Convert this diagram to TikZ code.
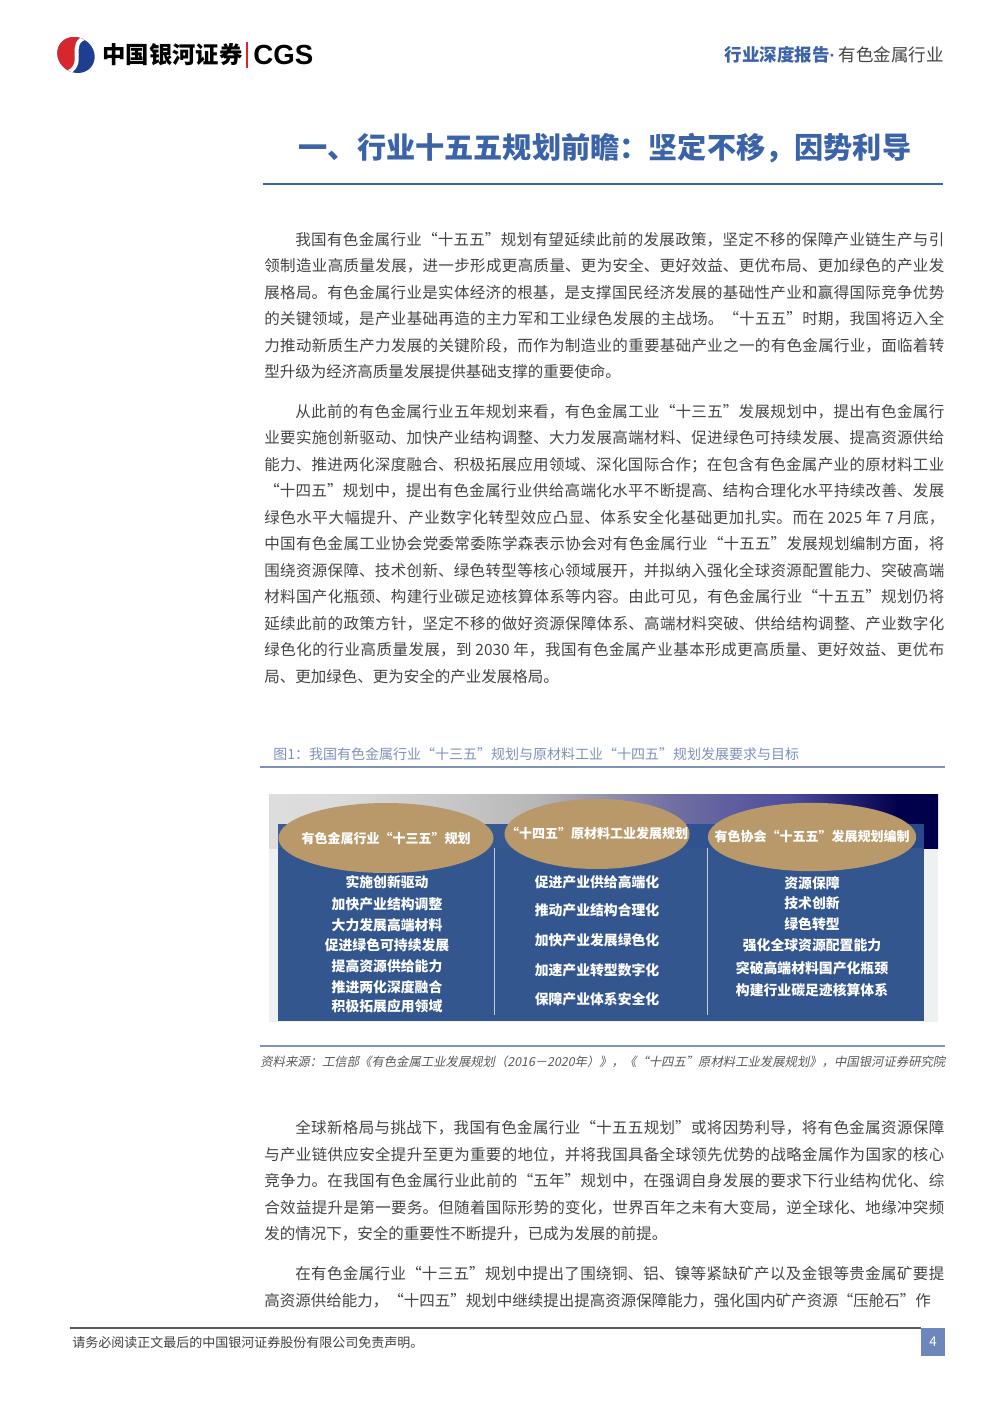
\documentclass[tikz,border=0pt]{standalone}
\usepackage{fontspec}
\usepackage{graphicx}
\setmainfont{Noto Sans CJK SC}
\newfontfamily\cjkit[FakeSlant=0.2]{Noto Sans CJK SC}
\newfontfamily\latinbold{Liberation Sans}
\usetikzlibrary{shapes.geometric}
\XeTeXlinebreaklocale "zh"
\XeTeXlinebreakskip=0pt plus 3pt minus 0.2pt
\tolerance=9999
\definecolor{cgsred}{HTML}{D7262E}
\definecolor{cgsblue}{HTML}{1E3F8F}
\definecolor{titleblue}{HTML}{3B63A8}
\definecolor{bodygray}{HTML}{454545}
\definecolor{capblue}{HTML}{7F92B9}
\definecolor{panelblue}{HTML}{34568F}
\definecolor{bandblue}{HTML}{2C5190}
\definecolor{ovaltan}{HTML}{B9996A}
\definecolor{figbg}{HTML}{EEF1F2}
\definecolor{pagebox}{HTML}{6E87BA}
\pgfdeclarehorizontalshading{photoshade}{100bp}{color(0bp)=(white!90!black); color(30bp)=(white!86!black); color(45bp)=(white!72!black); color(55bp)=(black!45!white!80!blue); color(64bp)=(black!55!blue!70!white); color(72bp)=(black!70!blue); color(100bp)=(black!80!blue)}
\tikzset{
  para/.style={anchor=north west, inner sep=0pt, text width=408pt, align=justify,
    font=\fontsize{9.3pt}{15.9pt}\selectfont, text=bodygray},
  colitem/.style={inner sep=0pt, text=white, font=\fontsize{8.3pt}{10pt}\selectfont\bfseries},
  oval/.style={ellipse, fill=ovaltan, inner sep=0pt, outer sep=0pt},
  ovaltext/.style={inner sep=0pt, text=white, font=\fontsize{7.8pt}{9pt}\selectfont\bfseries},
  rulecap/.style={draw=capblue, line width=0.8pt},
}
\begin{document}
\begin{tikzpicture}[x=0.6pt,y=-0.6pt]
\useasboundingbox (0,0) rectangle (992,1403);
\fill[white] (0,0) rectangle (992,1403);

% ---------- header logo ----------
\begin{scope}
  \clip (76,55) ellipse [x radius=11.6pt, y radius=10.4pt, rotate=-35];
  \fill[cgsblue] (55,33) rectangle (100,78);
  \fill[cgsred] (88,37) .. controls (64,42) and (90,66) .. (64,74) -- (50,80) -- (50,30) -- cycle;
  \draw[white, line width=2.4pt] (88,37) .. controls (64,42) and (90,66) .. (64,74);
\end{scope}
\node[anchor=west, inner sep=0pt, font=\fontsize{14pt}{16pt}\selectfont\bfseries] (brand) at (102,55) {中国银河证券};
\draw[cgsred, line width=0.7pt] (247,42) -- (247,68);
\node[anchor=west, inner sep=0pt, font=\latinbold\fontsize{16.6pt}{18pt}\selectfont\bfseries] (cgs) at (253,55) {CGS};
\node[anchor=east, inner sep=0pt, font=\fontsize{10.5pt}{12pt}\selectfont] (hdr) at (944,55) {\textcolor{titleblue}{\bfseries 行业深度报告}\textcolor{titleblue}{\latinbold\bfseries\char"00B7}\hspace{2pt}\textcolor{bodygray}{有色金属行业}};

% ---------- title ----------
\node[inner sep=0pt, text=titleblue, font=\fontsize{17.5pt}{20pt}\selectfont\bfseries] (title) at (605,148) {一、行业十五五规划前瞻：坚定不移，因势利导};
\draw[titleblue, line width=1.3pt] (263,184) -- (943,184);

% ---------- paragraphs ----------
\node[para] (p1) at (264,232) {\hspace*{2em}我国有色金属行业“十五五”规划有望延续此前的发展政策，坚定不移的保障产业链生产与引\linebreak
领制造业高质量发展，进一步形成更高质量、更为安全、更好效益、更优布局、更加绿色的产业发\linebreak
展格局。有色金属行业是实体经济的根基，是支撑国民经济发展的基础性产业和赢得国际竞争优势\linebreak
的关键领域，是产业基础再造的主力军和工业绿色发展的主战场。“十五五”时期，我国将迈入全\linebreak
力推动新质生产力发展的关键阶段，而作为制造业的重要基础产业之一的有色金属行业，面临着转\linebreak
型升级为经济高质量发展提供基础支撑的重要使命。};

\node[para] (p2) at (264,404) {\hspace*{2em}从此前的有色金属行业五年规划来看，有色金属工业“十三五”发展规划中，提出有色金属行\linebreak
业要实施创新驱动、加快产业结构调整、大力发展高端材料、促进绿色可持续发展、提高资源供给\linebreak
能力、推进两化深度融合、积极拓展应用领域、深化国际合作；在包含有色金属产业的原材料工业\linebreak
“十四五”规划中，提出有色金属行业供给高端化水平不断提高、结构合理化水平持续改善、发展\linebreak
绿色水平大幅提升、产业数字化转型效应凸显、体系安全化基础更加扎实。而在 2025 年 7 月底，\linebreak
中国有色金属工业协会党委常委陈学森表示协会对有色金属行业“十五五”发展规划编制方面，将\linebreak
围绕资源保障、技术创新、绿色转型等核心领域展开，并拟纳入强化全球资源配置能力、突破高端\linebreak
材料国产化瓶颈、构建行业碳足迹核算体系等内容。由此可见，有色金属行业“十五五”规划仍将\linebreak
延续此前的政策方针，坚定不移的做好资源保障体系、高端材料突破、供给结构调整、产业数字化\linebreak
绿色化的行业高质量发展，到 2030 年，我国有色金属产业基本形成更高质量、更好效益、更优布\linebreak
局、更加绿色、更为安全的产业发展格局。};

% ---------- figure caption ----------
\node[anchor=west, inner sep=0pt, text=capblue, font=\fontsize{8.4pt}{10pt}\selectfont] (cap) at (273,754) {图1：我国有色金属行业“十三五”规划与原材料工业“十四五”规划发展要求与目标};
\draw[rulecap] (260,767) -- (945,767);

% ---------- figure ----------
\fill[figbg] (269,794) rectangle (938,1022);
\shade[shading=photoshade] (269,794) rectangle (938,848);
\fill[panelblue] (278,848) rectangle (924,1021);
\fill[bandblue, opacity=0.92] (278,824) rectangle (924,848);
\draw[white!70!panelblue, line width=0.5pt] (494,848) -- (494,1015);
\draw[white!70!panelblue, line width=0.5pt] (707,848) -- (707,1015);

\node[oval, minimum width=129pt, minimum height=42pt] (o1) at (386,838) {};
\node[oval, minimum width=111pt, minimum height=42pt] (o2) at (597,834) {};
\node[oval, minimum width=125pt, minimum height=41pt] (o3) at (812,837) {};
\node[ovaltext] (t1) at (o1) {有色金属行业“十三五”规划};
\node[ovaltext] (t2) at (o2) {“十四五”原材料工业发展规划};
\node[ovaltext] (t3) at (o3) {有色协会“十五五”发展规划编制};

\foreach \t/\y [count=\i] in {实施创新驱动/882, 加快产业结构调整/904, 大力发展高端材料/925, 促进绿色可持续发展/945, 提高资源供给能力/966, 推进两化深度融合/987, 积极拓展应用领域/1006}
  \node[colitem] (a\i) at (387,\y) {\t};
\foreach \t/\y [count=\i] in {促进产业供给高端化/882, 推动产业结构合理化/910, 加快产业发展绿色化/940, 加速产业转型数字化/970, 保障产业体系安全化/999}
  \node[colitem] (b\i) at (597,\y) {\t};
\foreach \t/\y [count=\i] in {资源保障/883, 技术创新/903, 绿色转型/924, 强化全球资源配置能力/945, 突破高端材料国产化瓶颈/968, 构建行业碳足迹核算体系/990}
  \node[colitem] (c\i) at (812,\y) {\t};

% ---------- source ----------
\draw[rulecap] (260,1046) -- (945,1046);
\node[anchor=west, inner sep=0pt, text=black!65, font=\cjkit\fontsize{7.6pt}{9pt}\selectfont] (src) at (260,1062) {\resizebox{411pt}{!}{资料来源：工信部《有色金属工业发展规划（2016－2020年）》，《“十四五”原材料工业发展规划》，中国银河证券研究院}};

% ---------- more paragraphs ----------
\node[para] (p3) at (264,1120) {\hspace*{2em}全球新格局与挑战下，我国有色金属行业“十五五规划”或将因势利导，将有色金属资源保障\linebreak
与产业链供应安全提升至更为重要的地位，并将我国具备全球领先优势的战略金属作为国家的核心\linebreak
竞争力。在我国有色金属行业此前的“五年”规划中，在强调自身发展的要求下行业结构优化、综\linebreak
合效益提升是第一要务。但随着国际形势的变化，世界百年之未有大变局，逆全球化、地缘冲突频\linebreak
发的情况下，安全的重要性不断提升，已成为发展的前提。};

\node[para] (p4) at (264,1266) {\parfillskip=0pt\hspace*{2em}在有色金属行业“十三五”规划中提出了围绕铜、铝、镍等紧缺矿产以及金银等贵金属矿要提\linebreak
高资源供给能力，“十四五”规划中继续提出提高资源保障能力，强化国内矿产资源“压舱石”作};

% ---------- footer ----------
\draw[black!65, line width=0.8pt] (70,1328) -- (921,1328);
\node[anchor=west, inner sep=0pt, text=black!75, font=\fontsize{7.8pt}{9pt}\selectfont] (foot) at (72,1343) {请务必阅读正文最后的中国银河证券股份有限公司免责声明。};
\fill[pagebox] (921,1328) rectangle (945,1356);
\node[text=white, inner sep=0pt, font=\fontsize{8pt}{9pt}\selectfont] (pg) at (933,1342) {4};
\end{tikzpicture}
\end{document}
